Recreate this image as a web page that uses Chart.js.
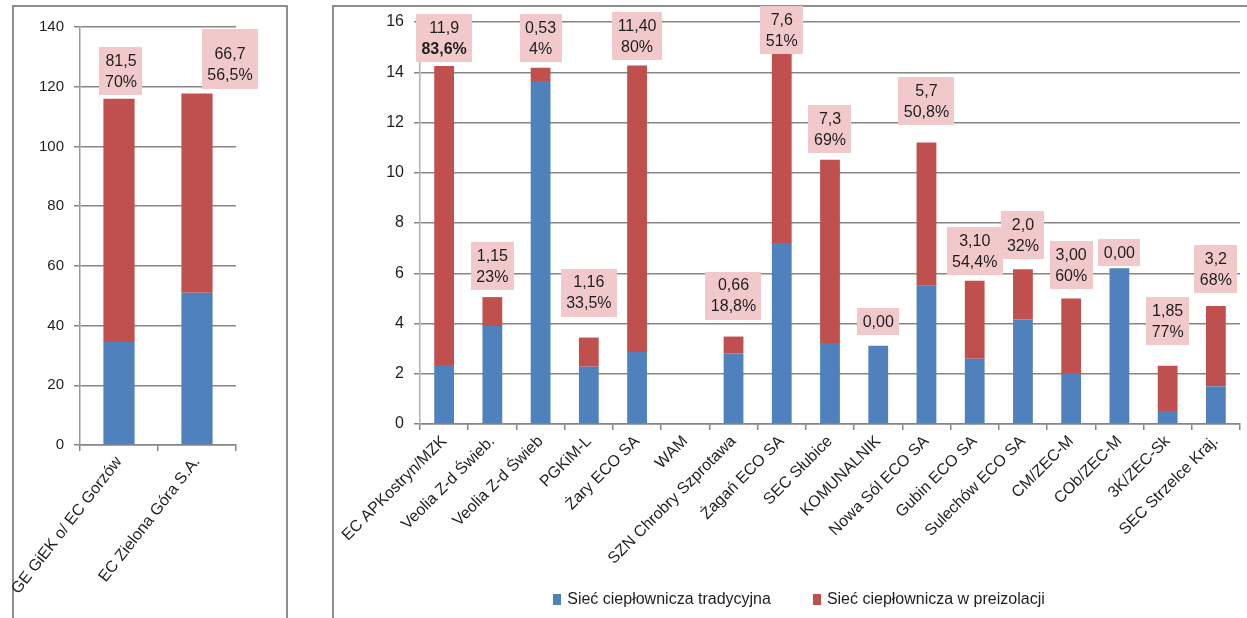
<!DOCTYPE html>
<html>
<head>
<meta charset="utf-8">
<script src="https://cdn.jsdelivr.net/npm/chart.js@4"></script>
<style>
	body { margin: 0; width: 1247px; height: 618px; overflow: hidden; background: #fff; position: relative; }
	.panel { position: absolute; border: 2px solid #8e8e8e; background: #fff; }
	#panelLeft { left: 12px; top: 5px; width: 272px; height: 640px; }
	#panelRight { left: 332px; top: 5px; width: 940px; height: 640px; }
	canvas { position: absolute; top: 0; }
	#leftChart { left: 0; }
	#rightChart { left: 332px; }
</style>
</head>
<body>
<div class="panel" id="panelLeft"></div>
<div class="panel" id="panelRight"></div>
<canvas id="leftChart" width="300" height="618"></canvas>
<canvas id="rightChart" width="915" height="618"></canvas>
<script>
// series names
const seriesNames = ["Sieć ciepłownicza tradycyjna", "Sieć ciepłownicza w preizolacji"];

// left chart: big plants
const leftCategories = ["GE GiEK o/ EC Gorzów", "EC Zielona Góra S.A."];
const leftTraditional = [34.5, 51];
const leftPreinsulated = [81.5, 66.7];
const leftLabelValue = ["81,5", "66,7"];
const leftLabelShare = ["70%", "56,5%"];
const leftTicks = [0, 20, 40, 60, 80, 100, 120, 140];

// right chart: the rest
const categories = [
	"EC APKostryn/MZK", "Veolia Z-d Świeb.", "Veolia Z-d Świeb", "PGKiM-L", "Żary ECO SA",
	"WAM", "SZN Chrobry Szprotawa", "Żagań ECO SA", "SEC Słubice", "KOMUNALNIK",
	"Nowa Sól ECO SA", "Gubin ECO SA", "Sulechów ECO SA", "CM/ZEC-M", "COb/ZEC-M",
	"3K/ZEC-Sk", "SEC Strzelce Kraj.",
];
const traditional = [2.35, 3.9, 13.65, 2.28, 2.87, null, 2.82, 7.2, 3.22, 3.11, 5.5, 2.6, 4.16, 2.0, 6.2, 0.52, 1.5];
const preinsulated = [11.9, 1.15, 0.53, 1.16, 11.4, null, 0.66, 7.6, 7.3, 0, 5.7, 3.1, 2.0, 3.0, 0, 1.8, 3.2];
const labelValue = ["11,9", "1,15", "0,53", "1,16", "11,40", null, "0,66", "7,6", "7,3", "0,00", "5,7", "3,10", "2,0", "3,00", "0,00", "1,85", "3,2"];
const labelShare = ["83,6%", "23%", "4%", "33,5%", "80%", null, "18,8%", "51%", "69%", null, "50,8%", "54,4%", "32%", "60%", null, "77%", "68%"];
const rightTicks = [0, 2, 4, 6, 8, 10, 12, 14, 16];

const BLUE = "#4f81bd";
const RED = "#c0504d";
const FONT = "'Liberation Sans', Arial, sans-serif";
const GRID = "#868686";

// pink boxes above each stack (hand placed in the original, so lift/shift per box)
const boxLabels = {
	id: "boxLabels",
	afterDatasetsDraw(chart, args, opts) {
		const ctx = chart.ctx;
		const m0 = chart.getDatasetMeta(0);
		const m1 = chart.getDatasetMeta(1);
		ctx.save();
		opts.values.forEach((v, i) => {
			if (v == null) return;
			const lines = [v];
			if (opts.shares[i]) lines.push(opts.shares[i]);
			const x = m1.data[i].x + (opts.shift[i] || 0);
			const yTop = Math.min(m0.data[i].y, m1.data[i].y);
			const fonts = lines.map((t, k) => (k === 1 && opts.bold === i ? "bold " : "") + "16px " + FONT);
			let w = 0;
			lines.forEach((t, k) => { ctx.font = fonts[k]; w = Math.max(w, ctx.measureText(t).width); });
			const extra = (opts.extraTop && opts.extraTop[i]) || 0;
			const bw = w + 11;
			const bh = lines.length * 21 + 6;
			const by = yTop - opts.lift[i] - bh;
			ctx.fillStyle = "#f2c9cb";
			ctx.fillRect(Math.round(x - bw / 2), Math.round(by - extra), Math.round(bw), bh + extra);
			ctx.fillStyle = "#1e1e1e";
			ctx.textAlign = "center";
			ctx.textBaseline = "middle";
			lines.forEach((t, k) => {
				ctx.font = fonts[k];
				ctx.fillText(t, x, by + 3 + 10.5 + k * 21 + 1);
			});
		});
		ctx.restore();
	},
};

// legend drawn by hand so the item gap matches
const bottomLegend = {
	id: "bottomLegend",
	afterDraw(chart, args, opts) {
		const ctx = chart.ctx;
		ctx.save();
		ctx.font = "16px " + FONT;
		ctx.textBaseline = "middle";
		const items = chart.data.datasets.map((d) => ({ text: d.label, color: d.backgroundColor }));
		const widths = items.map((it) => 8 + 6 + ctx.measureText(it.text).width);
		const total = widths.reduce((a, b) => a + b, 0) + opts.gap * (items.length - 1);
		let x = opts.centerX - total / 2;
		items.forEach((it, i) => {
			ctx.fillStyle = it.color;
			ctx.fillRect(Math.round(x), opts.y - 5, 8, 11);
			ctx.fillStyle = "#1e1e1e";
			ctx.fillText(it.text, x + 14, opts.y + 1);
			x += widths[i] + opts.gap;
		});
		ctx.restore();
	},
};

// keep rotated labels from pushing the plot area to the right
function fixX(height) {
	return function (scale) {
		scale.height = height;
		scale.paddingLeft = 0;
		scale.paddingRight = 0;
	};
}

// Left chart
new Chart(document.getElementById("leftChart"), {
	type: "bar",
	data: {
		labels: leftCategories,
		datasets: [
			{ label: seriesNames[0], data: leftTraditional, backgroundColor: BLUE },
			{ label: seriesNames[1], data: leftPreinsulated, backgroundColor: RED },
		],
	},
	options: {
		responsive: false,
		animation: false,
		categoryPercentage: 1,
		barPercentage: 0.4,
		layout: { padding: { left: 0, right: 64, top: 27, bottom: 0 } },
		plugins: {
			legend: { display: false },
			tooltip: { enabled: false },
			boxLabels: {
				values: leftLabelValue,
				shares: leftLabelShare,
				lift: [4, 5],
				shift: [2, 33],
				extraTop: [0, 12],
				bold: -1,
			},
		},
		scales: {
			x: {
				stacked: true,
				afterFit: fixX(173),
				grid: { drawOnChartArea: false, offset: true, tickLength: 6, color: GRID, lineWidth: 1.5 },
				border: { color: GRID, width: 1.5 },
				ticks: {
					autoSkip: false, minRotation: 52, maxRotation: 52, padding: 2,
					color: "#1e1e1e", font: { family: FONT, size: 16 },
				},
			},
			y: {
				stacked: true,
				min: 0,
				max: 140,
				afterFit(scale) { scale.width = 80; },
				afterBuildTicks(scale) { scale.ticks = leftTicks.map((v) => ({ value: v })); },
				grid: { color: GRID, lineWidth: 1.5, tickLength: 6 },
				border: { color: "#9a9a9a", width: 1.5 },
				ticks: { padding: 10, color: "#1e1e1e", font: { family: FONT, size: 15 } },
			},
		},
	},
	plugins: [boxLabels],
});

// Right chart
new Chart(document.getElementById("rightChart"), {
	type: "bar",
	data: {
		labels: categories,
		datasets: [
			{ label: seriesNames[0], data: traditional, backgroundColor: BLUE },
			{ label: seriesNames[1], data: preinsulated, backgroundColor: RED },
		],
	},
	options: {
		responsive: false,
		animation: false,
		categoryPercentage: 1,
		barPercentage: 0.41,
		layout: { padding: { left: 0, right: 7, top: 22, bottom: 44 } },
		plugins: {
			legend: { display: false },
			tooltip: { enabled: false },
			boxLabels: {
				values: labelValue,
				shares: labelShare,
				lift: [4, 7, 6, 21, 5, 0, 17, -2, 7, 11, 18, 6, 10, 9, 2, 21, 13],
				shift: [],
				bold: 0,
			},
			bottomLegend: { centerX: 467, y: 599, gap: 42 },
		},
		scales: {
			x: {
				stacked: true,
				afterFit: fixX(150),
				grid: { drawOnChartArea: false, offset: true, tickLength: 6, color: GRID, lineWidth: 1.5 },
				border: { color: GRID, width: 1.5 },
				ticks: {
					autoSkip: false, minRotation: 45, maxRotation: 45, padding: 2,
					color: "#1e1e1e", font: { family: FONT, size: 16 },
				},
			},
			y: {
				stacked: true,
				min: 0,
				max: 16,
				afterFit(scale) { scale.width = 88; },
				afterBuildTicks(scale) { scale.ticks = rightTicks.map((v) => ({ value: v })); },
				grid: { color: GRID, lineWidth: 1.5, tickLength: 6 },
				border: { color: "#b0b0b0", width: 1.5 },
				ticks: { padding: 10, color: "#1e1e1e", font: { family: FONT, size: 16 } },
			},
		},
	},
	plugins: [boxLabels, bottomLegend],
});
</script>
</body>
</html>
